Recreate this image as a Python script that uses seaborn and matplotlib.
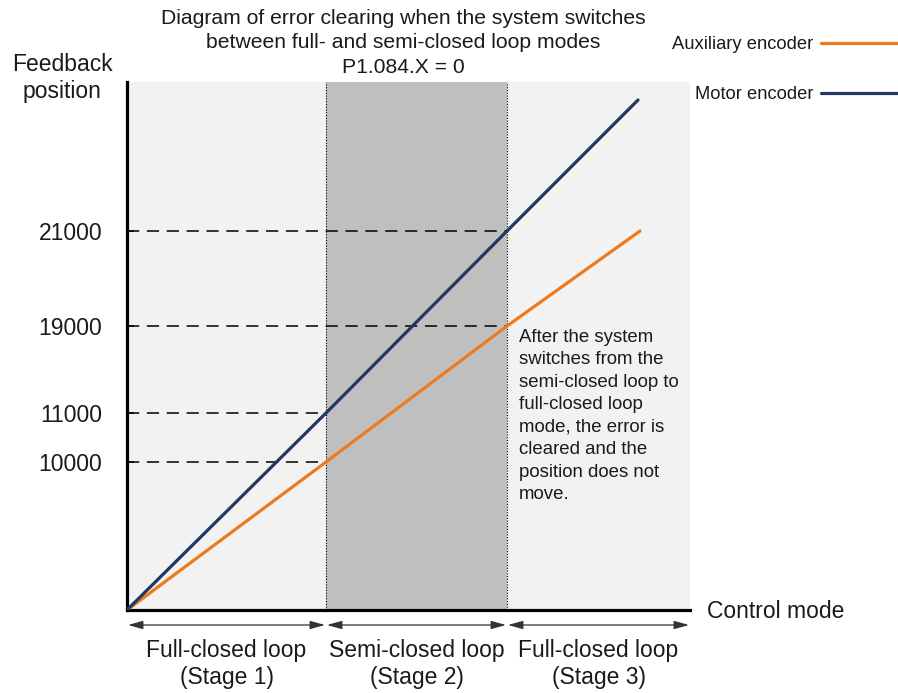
import matplotlib
matplotlib.use("Agg")
import matplotlib.pyplot as plt
import seaborn as sns
import pandas as pd

# ---- data (diagram units) ----
stage_edges = [0, 199, 380, 563]
stage_labels = ["Full-closed loop\n(Stage 1)", "Semi-closed loop\n(Stage 2)", "Full-closed loop\n(Stage 3)"]
motor_x = [0, 199, 380, 511]
motor_y = [0, 197, 379, 510]
aux_x = [0, 199, 380, 513]
aux_y = [0, 148, 284, 379]
tick_pos = [148, 197, 284, 379]
tick_labels = ["10000", "11000", "19000", "21000"]
tick_reach = [199, 199, 380, 380]
y_top = 528

sns.set_style("white")
plt.rcParams["font.family"] = ["Liberation Sans", "DejaVu Sans"]

fig = plt.figure(figsize=(8.98, 6.93), dpi=100)
ax = fig.add_axes([127/898, (693-610)/693, 563/898, 528/693])
ax.set_facecolor("#F2F2F2")
ax.set_xlim(stage_edges[0], stage_edges[-1])
ax.set_ylim(0, y_top)

ax.axvspan(stage_edges[1], stage_edges[2], color="#BFBFBF", zorder=0.5, lw=0)
for xe in stage_edges[1:3]:
    ax.axvline(xe, color="black", lw=0.8, ls=(0, (1, 1.5)), zorder=1)

for yp, xr in zip(tick_pos, tick_reach):
    ax.plot([0, xr], [yp, yp], color="black", lw=1.1, dashes=(8, 5), zorder=1.5)

aux_df = pd.DataFrame({"x": aux_x, "y": aux_y})
mot_df = pd.DataFrame({"x": motor_x, "y": motor_y})
sns.lineplot(data=aux_df, x="x", y="y", color="#EE7A1E", lw=2.3, ax=ax,
             label="Auxiliary encoder", zorder=3, sort=False)
sns.lineplot(data=mot_df, x="x", y="y", color="#1F3864", lw=2.3, ax=ax,
             label="Motor encoder", zorder=3, sort=False)

for s in ["top", "right"]:
    ax.spines[s].set_visible(False)
for s in ["left", "bottom"]:
    ax.spines[s].set_linewidth(2.3)
    ax.spines[s].set_color("black")

ax.set_xticks([])
ax.set_yticks(tick_pos)
ax.set_yticklabels(tick_labels, fontsize=16.5, color="#1a1a1a")
ax.tick_params(axis="y", direction="in", length=5, width=1.2, pad=18, left=True)
ax.set_xlabel("")
ax.set_ylabel("")

# stage arrows and labels
for i in range(3):
    x0, x1 = stage_edges[i], stage_edges[i+1]
    ax.annotate("", xy=(x1 - 1, -15), xytext=(x0 + 1, -15), xycoords="data",
                arrowprops=dict(arrowstyle="<|-|>,head_length=0.9,head_width=0.25",
                                color="#333333", lw=0.9, shrinkA=0, shrinkB=0,
                                mutation_scale=10),
                annotation_clip=False)
    ax.text((x0 + x1) / 2, -54, stage_labels[i], ha="center", va="center",
            fontsize=16.5, linespacing=1.22, color="#1a1a1a", clip_on=False)

ax.text(580, -2, "Control mode", ha="left", va="center", fontsize=16.5,
        color="#1a1a1a", clip_on=False)

fig.text(62/898, 1 - 78/693, "Feedback\nposition", ha="center", va="center",
         fontsize=16.5, linespacing=1.22, color="#1a1a1a")

fig.text(403/898, 1 - 43/693,
         "Diagram of error clearing when the system switches\n"
         "between full- and semi-closed loop modes\nP1.084.X = 0",
         ha="center", va="center", fontsize=15.2, linespacing=1.38, color="#1a1a1a")

ax.text(392, 281, "After the system\nswitches from the\nsemi-closed loop to\n"
        "full-closed loop\nmode, the error is\ncleared and the\nposition does not\nmove.",
        ha="left", va="top", fontsize=13.4, linespacing=1.42, color="#1a1a1a")

leg = ax.legend(loc="upper right", bbox_to_anchor=(1.0, 1 - 36/693),
                bbox_transform=fig.transFigure, frameon=False, markerfirst=False,
                fontsize=13.2, handlelength=4.2, handletextpad=0.4,
                labelspacing=1.8, borderpad=0, borderaxespad=0)
for t in leg.get_texts():
    t.set_color("#1a1a1a")

fig.savefig("out.png", dpi=100)
